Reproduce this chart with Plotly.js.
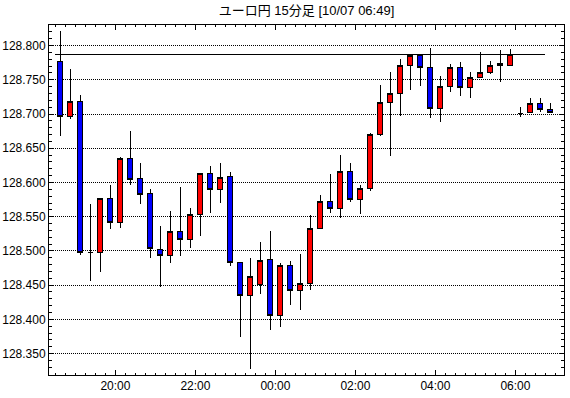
<!DOCTYPE html>
<html>
<head>
<meta charset="utf-8">
<script src="https://cdn.plot.ly/plotly-3.0.1.min.js"></script>
<style>
html,body{margin:0;padding:0;background:#fff;}
#chart{width:570px;height:398px;}
#chart .boxlayer path, #chart .shapelayer path{shape-rendering:crispEdges;}
</style>
</head>
<body>
<div id="chart"></div>
<script>
const times = [
"2021-10-06 18:30","2021-10-06 18:45","2021-10-06 19:00","2021-10-06 19:15","2021-10-06 19:30","2021-10-06 19:45",
"2021-10-06 20:00","2021-10-06 20:15","2021-10-06 20:30","2021-10-06 20:45","2021-10-06 21:00","2021-10-06 21:15",
"2021-10-06 21:30","2021-10-06 21:45","2021-10-06 22:00","2021-10-06 22:15","2021-10-06 22:30","2021-10-06 22:45",
"2021-10-06 23:00","2021-10-06 23:15","2021-10-06 23:30","2021-10-06 23:45","2021-10-07 00:00","2021-10-07 00:15",
"2021-10-07 00:30","2021-10-07 00:45","2021-10-07 01:00","2021-10-07 01:15","2021-10-07 01:30","2021-10-07 01:45",
"2021-10-07 02:00","2021-10-07 02:15","2021-10-07 02:30","2021-10-07 02:45","2021-10-07 03:00","2021-10-07 03:15",
"2021-10-07 03:30","2021-10-07 03:45","2021-10-07 04:00","2021-10-07 04:15","2021-10-07 04:30","2021-10-07 04:45",
"2021-10-07 05:00","2021-10-07 05:15","2021-10-07 05:30","2021-10-07 05:45","2021-10-07 06:00","2021-10-07 06:15",
"2021-10-07 06:30","2021-10-07 06:45"];
const openV = [128.777,128.696,128.718,128.497,128.498,128.576,128.541,128.635,128.606,128.584,
128.502,128.493,128.528,128.516,128.553,128.613,128.590,128.609,128.483,128.435,
128.451,128.488,128.406,128.478,128.442,128.452,128.533,128.572,128.562,128.616,
128.575,128.591,128.670,128.717,128.730,128.771,128.786,128.768,128.708,128.740,
128.768,128.739,128.753,128.761,128.771,128.771,128.701,128.702,128.715,128.706];
const highV = [128.821,128.766,128.728,128.568,128.577,128.596,128.637,128.675,128.628,128.590,
128.536,128.559,128.594,128.563,128.614,128.624,128.628,128.616,128.484,128.490,
128.513,128.529,128.483,128.486,128.495,128.552,128.581,128.612,128.640,128.628,
128.597,128.673,128.743,128.762,128.781,128.787,128.787,128.797,128.755,128.773,
128.776,128.762,128.790,128.777,128.793,128.795,128.711,128.724,128.723,128.716];
const lowV = [128.668,128.693,128.494,128.456,128.469,128.532,128.534,128.596,128.569,128.490,
128.447,128.483,128.492,128.504,128.522,128.555,128.570,128.478,128.374,128.328,
128.437,128.384,128.389,128.421,128.414,128.443,128.532,128.556,128.548,128.571,
128.554,128.587,128.668,128.639,128.697,128.735,128.741,128.694,128.688,128.732,
128.726,128.723,128.752,128.759,128.747,128.770,128.696,128.701,128.703,128.701];
const closeV = [128.696,128.718,128.498,128.497,128.576,128.542,128.635,128.605,128.583,128.503,
128.493,128.528,128.516,128.553,128.613,128.590,128.607,128.483,128.435,128.463,
128.486,128.406,128.478,128.442,128.452,128.533,128.572,128.562,128.616,128.575,
128.591,128.670,128.717,128.730,128.771,128.786,128.768,128.708,128.740,128.768,
128.739,128.753,128.761,128.771,128.774,128.787,128.701,128.715,128.706,128.702];
const refLevel = 128.787;
const titleText = "ユーロ円 15分足 [10/07 06:49]";

const trace = {
  type: "candlestick",
  x: times, open: openV, high: highV, low: lowV, close: closeV,
  xperiod: 15*60*1000, xperiodalignment: "middle",
  increasing: {fillcolor: "#ff0000", line: {color: "#000000", width: 1}},
  decreasing: {fillcolor: "#0000ff", line: {color: "#000000", width: 1}},
  whiskerwidth: 0,
  hoverinfo: "skip",
  showlegend: false
};

const layout = {
  width: 570, height: 398,
  margin: {l: 49, r: 6, t: 25, b: 23, pad: 0},
  paper_bgcolor: "#ffffff", plot_bgcolor: "#ffffff",
  boxgap: 0.3,
  title: {text: titleText, x: 0.5, xref: "paper", xanchor: "center", y: 1, yref: "container", yanchor: "top", pad: {t: 6},
    font: {family: "Liberation Sans, Noto Sans CJK JP, sans-serif", size: 13, color: "#000"}},
  font: {family: "Liberation Sans, Arial, sans-serif", size: 12, color: "#000"},
  xaxis: {
    type: "date",
    range: ["2021-10-06 18:20:24", "2021-10-07 07:12:54"],
    rangeslider: {visible: false},
    tick0: "2021-10-06 20:00", dtick: 2*60*60*1000, tickformat: "%H:%M",
    ticks: "inside", ticklen: 5, tickwidth: 1, tickcolor: "#000",
    minor: {dtick: 15*60*1000, tick0: "2021-10-06 20:00", ticks: "inside", ticklen: 2, tickwidth: 1, tickcolor: "#000", showgrid: false},
    showline: true, linecolor: "#000", linewidth: 1, mirror: "allticks",
    showgrid: false, zeroline: false, fixedrange: true,
    tickfont: {size: 12}
  },
  yaxis: {
    range: [128.3187, 128.8301],
    tick0: 128.35, dtick: 0.05, tickformat: ".3f",
    ticks: "inside", ticklen: 4, tickwidth: 1, tickcolor: "#000",
    minor: {dtick: 0.01, ticks: "inside", ticklen: 3, tickwidth: 1, tickcolor: "#000", showgrid: false},
    showline: true, linecolor: "#000", linewidth: 1, mirror: "allticks",
    showgrid: true, gridcolor: "#000", gridwidth: 1, griddash: "1px,1px",
    zeroline: false, fixedrange: true,
    tickfont: {size: 12}
  },
  shapes: [{
    type: "line", xref: "x", yref: "y",
    x0: times[0], x1: times[times.length - 1], y0: refLevel, y1: refLevel,
    line: {color: "#000", width: 1.5}
  }]
};

Plotly.newPlot("chart", [trace], layout, {staticPlot: true, displayModeBar: false});
</script>
</body>
</html>
